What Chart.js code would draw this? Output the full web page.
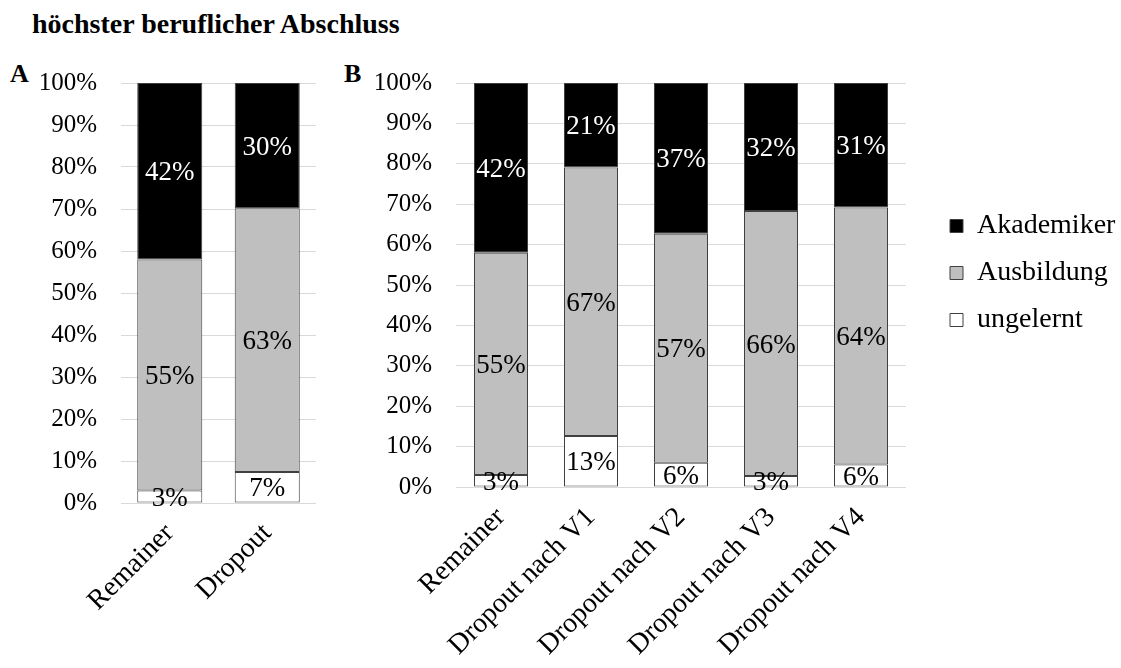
<!DOCTYPE html>
<html lang="de">
<head>
<meta charset="utf-8">
<title>höchster beruflicher Abschluss</title>
<script src="https://cdn.jsdelivr.net/npm/chart.js@4.4.1/dist/chart.umd.min.js"></script>
<style>
  html, body { margin: 0; padding: 0; background: #fff; }
  body {
    width: 1121px; height: 668px; position: relative; overflow: hidden;
    font-family: 'Liberation Serif', 'Times New Roman', serif; color: #000;
  }
  .title { position: absolute; left: 32px; top: 8px; font-weight: bold; font-size: 28px; line-height: 32px; }
  .tag { position: absolute; top: 59px; font-weight: bold; font-size: 26px; line-height: 30px; }
  canvas { position: absolute; top: 60px; }
  #chartA { left: 0; }
  #chartB { left: 330px; }
</style>
</head>
<body>
<div class="title">höchster beruflicher Abschluss</div>
<div class="tag" style="left:10px">A</div>
<div class="tag" style="left:344px">B</div>
<canvas id="chartA" width="330" height="608"></canvas>
<canvas id="chartB" width="791" height="608"></canvas>

<script>
// Panel A: Remainer vs. Dropout
const groupsA = ['Remainer', 'Dropout'];
const ungelerntA = [3, 7.4];
const ausbildungA = [55, 62.8];
const akademikerA = [42, 29.8];

// Panel B: Remainer vs. Dropout by wave
const groupsB = ['Remainer', 'Dropout nach V1', 'Dropout nach V2', 'Dropout nach V3', 'Dropout nach V4'];
const ungelerntB = [3, 12.6, 6, 2.7, 5.6];
const ausbildungB = [55, 66.5, 56.7, 65.6, 63.6];
const akademikerB = [42, 20.9, 37.3, 31.7, 30.8];

const yTicks = [0, 10, 20, 30, 40, 50, 60, 70, 80, 90, 100];

const SERIF = "'Liberation Serif', 'Times New Roman', serif";
const GRID = '#d9d9d9';
const EDGE = '#404040';

// Writes the rounded percentage in the middle of every stacked segment
const segmentLabels = {
  id: 'segmentLabels',
  afterDatasetsDraw(chart, args, opts) {
    const ctx = chart.ctx;
    ctx.save();
    ctx.font = opts.size + 'px ' + SERIF;
    ctx.textAlign = 'center';
    ctx.textBaseline = 'middle';
    chart.data.datasets.forEach((ds, i) => {
      const meta = chart.getDatasetMeta(i);
      meta.data.forEach((bar, j) => {
        const { x, y, base } = bar.getProps(['x', 'y', 'base'], true);
        ctx.fillStyle = ds.labelColor;
        ctx.fillText(Math.round(ds.data[j]) + '%', x, (y + base) / 2 + opts.dy);
      });
    });
    ctx.restore();
  }
};

// Moves the legend box after layout so it sits beside the plot,
// and lets it run to the canvas edge so long labels are not clipped
const legendShift = {
  id: 'legendShift',
  afterLayout(chart, args, opts) {
    const lg = chart.legend;
    if (!lg || !lg.options.display) return;
    lg.left += opts.dx;
    lg.right = chart.width;
    lg.width = lg.right - lg.left;
    lg.top += opts.dy;
    lg.bottom += opts.dy;
  }
};

function makeDatasets(ungelernt, ausbildung, akademiker) {
  const common = { borderColor: EDGE, borderWidth: 1, borderSkipped: false };
  return [
    { label: 'ungelernt', data: ungelernt, backgroundColor: '#ffffff', labelColor: '#000', ...common },
    { label: 'Ausbildung', data: ausbildung, backgroundColor: '#bfbfbf', labelColor: '#000', ...common },
    { label: 'Akademiker', data: akademiker, backgroundColor: '#000000', labelColor: '#fff', ...common }
  ];
}

function createStackedChart(canvasId, labels, datasets, cfg) {
  const ctx = document.getElementById(canvasId).getContext('2d');
  return new Chart(ctx, {
    type: 'bar',
    data: { labels: labels, datasets: datasets },
    options: {
      responsive: false,
      animation: false,
      categoryPercentage: 1,
      barPercentage: cfg.barPct,
      layout: { padding: { left: 0, top: 23, right: cfg.padRight, bottom: 0 } },
      plugins: {
        title: { display: false },
        tooltip: { enabled: false },
        legend: {
          display: cfg.legend,
          position: 'right',
          fullSize: false,
          reverse: true,
          maxWidth: 170,
          labels: {
            boxWidth: 13,
            boxHeight: 13,
            padding: 19,
            color: '#000',
            font: { family: SERIF, size: 28 }
          }
        },
        segmentLabels: { size: 27, dy: 2 },
        legendShift: cfg.shift
      },
      scales: {
        x: {
          stacked: true,
          grid: { display: false, drawTicks: false },
          border: { display: false },
          ticks: {
            color: '#000',
            font: { family: SERIF, size: 28 },
            maxRotation: 45,
            minRotation: 45,
            autoSkip: false,
            padding: 14
          },
          afterFit(axis) { axis.height = cfg.xHeight; }
        },
        y: {
          stacked: true,
          min: 0,
          max: 100,
          afterBuildTicks(axis) { axis.ticks = yTicks.map(v => ({ value: v })); },
          grid: { color: GRID, lineWidth: 1, drawTicks: true, tickLength: 16, tickColor: 'rgba(0,0,0,0)' },
          border: { display: false },
          ticks: {
            color: '#000',
            font: { family: SERIF, size: 25 },
            padding: 8,
            callback: v => v + '%'
          },
          afterFit(axis) { axis.width = cfg.yWidth; }
        }
      }
    },
    plugins: [segmentLabels, legendShift]
  });
}

createStackedChart('chartA', groupsA, makeDatasets(ungelerntA, ausbildungA, akademikerA), {
  barPct: 0.667, padRight: 14, xHeight: 165, yWidth: 121, legend: false, shift: { dx: 0, dy: 0 }
});

createStackedChart('chartB', groupsB, makeDatasets(ungelerntB, ausbildungB, akademikerB), {
  barPct: 0.6, padRight: 45, xHeight: 181, yWidth: 126, legend: true, shift: { dx: 25, dy: -12 }
});
</script>
</body>
</html>
